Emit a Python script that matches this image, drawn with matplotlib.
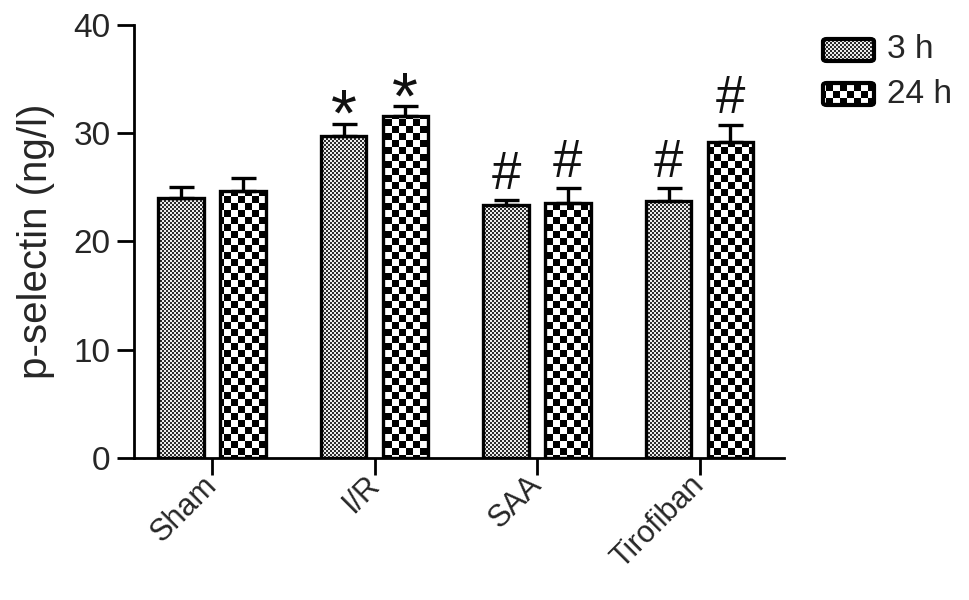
import numpy as np
import matplotlib
matplotlib.use("Agg")
import matplotlib.pyplot as plt
import matplotlib.transforms as mtransforms
from matplotlib.patches import FancyBboxPatch

plt.rcParams['font.family'] = ['Liberation Sans', 'DejaVu Sans']

categories = ["Sham", "I/R", "SAA", "Tirofiban"]
series_names = ["3 h", "24 h"]
vals_3h = [24.0, 29.7, 23.4, 23.7]
err_3h = [1.0, 1.2, 0.4, 1.2]
vals_24h = [24.7, 31.6, 23.6, 29.2]
err_24h = [1.2, 0.9, 1.3, 1.6]
marks_3h = ["", "*", "#", "#"]
marks_24h = ["", "*", "#", "#"]
yticks = [0, 10, 20, 30, 40]

W, H, DPI = 969, 600, 100
TXT = '#262626'
fig = plt.figure(figsize=(W / DPI, H / DPI), dpi=DPI)
ax = fig.add_axes([134 / W, 1 - 458 / H, (784 - 134) / W, (458 - 25) / H])
ax.set_zorder(1)
ax.patch.set_visible(False)

# patterns (pixel exact)
yy, xx = np.mgrid[0:H, 0:W]
fine = ((xx // 2 + yy // 2) % 2).astype(float)
fine = np.where(fine > 0, 0.93, 0.18)
coarse = ((xx // 7 + yy // 7) % 2).astype(float)
coarse = np.where(coarse > 0, 1.0, 0.0)
fine_rgb = np.dstack([fine] * 3)
coarse_rgb = np.dstack([coarse] * 3)

x = np.arange(len(categories))
bw = 0.28
off = 0.19
bars3 = ax.bar(x - off, vals_3h, bw, facecolor='none', edgecolor='black', linewidth=2.4, zorder=2)
bars24 = ax.bar(x + off, vals_24h, bw, facecolor='none', edgecolor='black', linewidth=2.4, zorder=2)
ax.errorbar(x - off, vals_3h, yerr=[np.zeros(4), err_3h], fmt='none', ecolor='black',
            elinewidth=2.4, capsize=9, capthick=2.4, zorder=3)
ax.errorbar(x + off, vals_24h, yerr=[np.zeros(4), err_24h], fmt='none', ecolor='black',
            elinewidth=2.4, capsize=9, capthick=2.4, zorder=3)

for b in bars3:
    im = fig.figimage(fine_rgb, 0, 0, zorder=0)
    im.set_clip_path(b)
for b in bars24:
    im = fig.figimage(coarse_rgb, 0, 0, zorder=0)
    im.set_clip_path(b)

def mark(xpos, top, m):
    if not m:
        return
    if m == "*":
        ax.annotate(m, xy=(xpos, top), xytext=(0, -9), textcoords='offset points',
                    ha='center', va='baseline', fontsize=48, color='#111111')
    else:
        ax.annotate(m, xy=(xpos, top), xytext=(0, 8), textcoords='offset points',
                    ha='center', va='baseline', fontsize=38, color='#111111')

for i in range(len(categories)):
    mark(x[i] - off, vals_3h[i] + err_3h[i], marks_3h[i])
    mark(x[i] + off, vals_24h[i] + err_24h[i], marks_24h[i])

ax.set_xlim(-0.48, 3.52)
ax.set_ylim(0, 40)
ax.set_yticks(yticks)
ax.set_yticklabels([str(t) for t in yticks], fontsize=24, color=TXT)
ax.set_xticks(x)
ax.tick_params(axis='x', labelbottom=False)
lbl_shift = mtransforms.ScaledTranslation(-10 / DPI, -12 / DPI, fig.dpi_scale_trans)
for i, cat in enumerate(categories):
    ax.text(x[i], 0, cat, transform=ax.get_xaxis_transform() + lbl_shift,
            rotation=45, ha='right', va='top', rotation_mode='anchor',
            fontsize=22, color=TXT)
ax.set_ylabel("p-selectin (ng/l)", fontsize=29, color=TXT, labelpad=13)
for s in ['top', 'right']:
    ax.spines[s].set_visible(False)
for s in ['left', 'bottom']:
    ax.spines[s].set_linewidth(2.0)
ax.tick_params(axis='both', width=2.0, length=12, pad=5)

# manual legend (pixel coords -> figure fraction)
def fig_box(x0, y0, x1, y1):
    return FancyBboxPatch((x0 / W, 1 - y1 / H), (x1 - x0) / W, (y1 - y0) / H,
                          boxstyle="round,pad=0,rounding_size=0.004",
                          transform=fig.transFigure, facecolor='none',
                          edgecolor='black', linewidth=3.0, zorder=2)

leg = [(fine_rgb, 39, 61, series_names[0]), (coarse_rgb, 83, 105, series_names[1])]
for arr, y0, y1, lab in leg:
    p = fig_box(823, y0, 874, y1)
    fig.add_artist(p)
    im = fig.figimage(arr, 0, 0, zorder=0)
    im.set_clip_path(p)
    fig.text(887 / W, 1 - ((y0 + y1) / 2) / H, lab, fontsize=24, va='center', ha='left',
             color=TXT)

fig.savefig("out.png", dpi=DPI)
